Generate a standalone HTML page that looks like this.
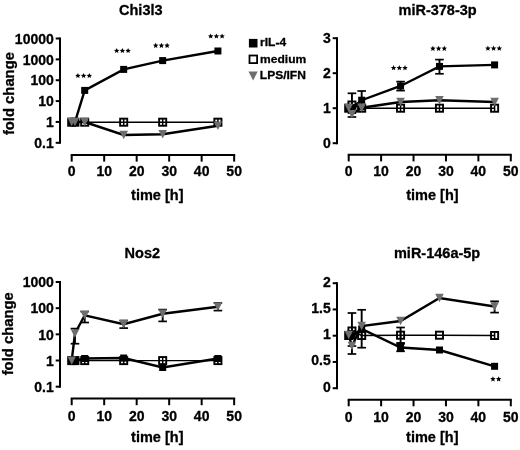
<!DOCTYPE html>
<html><head><meta charset="utf-8"><style>html,body{margin:0;padding:0;background:#fff;}svg{display:block;font-family:"Liberation Sans",sans-serif;will-change:transform;}text{stroke:#000;stroke-width:0.3px;stroke-linejoin:round;}</style></head><body>
<svg width="520" height="450" viewBox="0 0 520 450" font-family="Liberation Sans, sans-serif" font-weight="bold">
<rect width="520" height="450" fill="#fff"/>
<line x1="60" y1="37.5" x2="60" y2="143.8" stroke="#000" stroke-width="2"/>
<line x1="55.7" y1="38.5" x2="60" y2="38.5" stroke="#000" stroke-width="2"/>
<text x="53.8" y="43.7" font-size="14" text-anchor="end" >10000</text>
<line x1="55.7" y1="59.36" x2="60" y2="59.36" stroke="#000" stroke-width="2"/>
<text x="53.8" y="64.56" font-size="14" text-anchor="end" >1000</text>
<line x1="55.7" y1="80.22" x2="60" y2="80.22" stroke="#000" stroke-width="2"/>
<text x="53.8" y="85.42" font-size="14" text-anchor="end" >100</text>
<line x1="55.7" y1="101.08" x2="60" y2="101.08" stroke="#000" stroke-width="2"/>
<text x="53.8" y="106.28" font-size="14" text-anchor="end" >10</text>
<line x1="55.7" y1="121.94" x2="60" y2="121.94" stroke="#000" stroke-width="2"/>
<text x="53.8" y="127.14" font-size="14" text-anchor="end" >1</text>
<line x1="55.7" y1="142.8" x2="60" y2="142.8" stroke="#000" stroke-width="2"/>
<text x="53.8" y="148.0" font-size="14" text-anchor="end" >0.1</text>
<line x1="70.7" y1="155" x2="235.15000000000003" y2="155" stroke="#000" stroke-width="2"/>
<line x1="71.7" y1="155" x2="71.7" y2="161.6" stroke="#000" stroke-width="2"/>
<text x="71.7" y="176.2" font-size="14" text-anchor="middle" >0</text>
<line x1="104.19000000000001" y1="155" x2="104.19000000000001" y2="161.6" stroke="#000" stroke-width="2"/>
<text x="104.19000000000001" y="176.2" font-size="14" text-anchor="middle" >10</text>
<line x1="136.68" y1="155" x2="136.68" y2="161.6" stroke="#000" stroke-width="2"/>
<text x="136.68" y="176.2" font-size="14" text-anchor="middle" >20</text>
<line x1="169.17000000000002" y1="155" x2="169.17000000000002" y2="161.6" stroke="#000" stroke-width="2"/>
<text x="169.17000000000002" y="176.2" font-size="14" text-anchor="middle" >30</text>
<line x1="201.66000000000003" y1="155" x2="201.66000000000003" y2="161.6" stroke="#000" stroke-width="2"/>
<text x="201.66000000000003" y="176.2" font-size="14" text-anchor="middle" >40</text>
<line x1="234.15000000000003" y1="155" x2="234.15000000000003" y2="161.6" stroke="#000" stroke-width="2"/>
<text x="234.15000000000003" y="176.2" font-size="14" text-anchor="middle" >50</text>
<text x="140.8" y="14.8" font-size="14.5" text-anchor="middle" >Chi3l3</text>
<text x="157.3" y="200" font-size="14.5" text-anchor="middle" >time [h]</text>
<text transform="translate(13.6,93.6) rotate(-90)" font-size="14.8" text-anchor="middle">fold change</text>
<polyline points="71.70,122.00 74.95,122.00 84.70,90.40 123.68,69.40 162.67,60.60 217.91,51.00" fill="none" stroke="#000" stroke-width="2.4" stroke-linejoin="miter"/>
<rect x="68.20" y="118.50" width="7" height="7" fill="#000"/>
<rect x="71.45" y="118.50" width="7" height="7" fill="#000"/>
<rect x="81.20" y="86.90" width="7" height="7" fill="#000"/>
<rect x="120.18" y="65.90" width="7" height="7" fill="#000"/>
<rect x="159.17" y="57.10" width="7" height="7" fill="#000"/>
<rect x="214.41" y="47.50" width="7" height="7" fill="#000"/>
<polyline points="71.70,122.20 74.95,122.20 84.70,122.20 123.68,122.20 162.67,122.20 217.91,122.20" fill="none" stroke="#000" stroke-width="1.4" stroke-linejoin="miter"/>
<rect x="68.15" y="118.65" width="7.10" height="7.10" fill="none" stroke="#000" stroke-width="1.9"/>
<line x1="71.7" y1="118.65" x2="71.7" y2="125.75" stroke="#000" stroke-width="1.5"/>
<rect x="71.40" y="118.65" width="7.10" height="7.10" fill="none" stroke="#000" stroke-width="1.9"/>
<line x1="74.949" y1="118.65" x2="74.949" y2="125.75" stroke="#000" stroke-width="1.5"/>
<rect x="81.15" y="118.65" width="7.10" height="7.10" fill="none" stroke="#000" stroke-width="1.9"/>
<line x1="84.696" y1="118.65" x2="84.696" y2="125.75" stroke="#000" stroke-width="1.5"/>
<rect x="120.13" y="118.65" width="7.10" height="7.10" fill="none" stroke="#000" stroke-width="1.9"/>
<line x1="123.684" y1="118.65" x2="123.684" y2="125.75" stroke="#000" stroke-width="1.5"/>
<rect x="159.12" y="118.65" width="7.10" height="7.10" fill="none" stroke="#000" stroke-width="1.9"/>
<line x1="162.67200000000003" y1="118.65" x2="162.67200000000003" y2="125.75" stroke="#000" stroke-width="1.5"/>
<rect x="214.36" y="118.65" width="7.10" height="7.10" fill="none" stroke="#000" stroke-width="1.9"/>
<line x1="217.90500000000003" y1="118.65" x2="217.90500000000003" y2="125.75" stroke="#000" stroke-width="1.5"/>
<polyline points="71.70,122.00 74.95,122.00 84.70,122.00 123.68,135.00 162.67,134.20 217.91,125.80" fill="none" stroke="#000" stroke-width="2.4" stroke-linejoin="miter"/>
<polygon points="67.40,117.80 76.00,117.80 71.70,126.20" fill="#6e6e6e"/>
<polygon points="70.65,117.80 79.25,117.80 74.95,126.20" fill="#6e6e6e"/>
<polygon points="80.40,117.80 89.00,117.80 84.70,126.20" fill="#6e6e6e"/>
<polygon points="119.38,130.80 127.98,130.80 123.68,139.20" fill="#6e6e6e"/>
<polygon points="158.37,130.00 166.97,130.00 162.67,138.40" fill="#6e6e6e"/>
<polygon points="213.61,121.60 222.21,121.60 217.91,130.00" fill="#6e6e6e"/>
<polygon points="77.90,72.92 78.69,74.69 80.61,74.89 79.17,76.19 79.58,78.08 77.90,77.11 76.22,78.08 76.63,76.19 75.19,74.89 77.11,74.69" fill="#000"/>
<polygon points="83.60,72.92 84.39,74.69 86.31,74.89 84.87,76.19 85.28,78.08 83.60,77.11 81.92,78.08 82.33,76.19 80.89,74.89 82.81,74.69" fill="#000"/>
<polygon points="89.30,72.92 90.09,74.69 92.01,74.89 90.57,76.19 90.98,78.08 89.30,77.11 87.62,78.08 88.03,76.19 86.59,74.89 88.51,74.69" fill="#000"/>
<polygon points="116.70,47.92 117.49,49.69 119.41,49.89 117.97,51.19 118.38,53.08 116.70,52.11 115.02,53.08 115.43,51.19 113.99,49.89 115.91,49.69" fill="#000"/>
<polygon points="122.40,47.92 123.19,49.69 125.11,49.89 123.67,51.19 124.08,53.08 122.40,52.11 120.72,53.08 121.13,51.19 119.69,49.89 121.61,49.69" fill="#000"/>
<polygon points="128.10,47.92 128.89,49.69 130.81,49.89 129.37,51.19 129.78,53.08 128.10,52.11 126.42,53.08 126.83,51.19 125.39,49.89 127.31,49.69" fill="#000"/>
<polygon points="155.70,42.72 156.49,44.49 158.41,44.69 156.97,45.99 157.38,47.88 155.70,46.91 154.02,47.88 154.43,45.99 152.99,44.69 154.91,44.49" fill="#000"/>
<polygon points="161.40,42.72 162.19,44.49 164.11,44.69 162.67,45.99 163.08,47.88 161.40,46.91 159.72,47.88 160.13,45.99 158.69,44.69 160.61,44.49" fill="#000"/>
<polygon points="167.10,42.72 167.89,44.49 169.81,44.69 168.37,45.99 168.78,47.88 167.10,46.91 165.42,47.88 165.83,45.99 164.39,44.69 166.31,44.49" fill="#000"/>
<polygon points="210.70,33.42 211.49,35.19 213.41,35.39 211.97,36.69 212.38,38.58 210.70,37.61 209.02,38.58 209.43,36.69 207.99,35.39 209.91,35.19" fill="#000"/>
<polygon points="216.40,33.42 217.19,35.19 219.11,35.39 217.67,36.69 218.08,38.58 216.40,37.61 214.72,38.58 215.13,36.69 213.69,35.39 215.61,35.19" fill="#000"/>
<polygon points="222.10,33.42 222.89,35.19 224.81,35.39 223.37,36.69 223.78,38.58 222.10,37.61 220.42,38.58 220.83,36.69 219.39,35.39 221.31,35.19" fill="#000"/>
<line x1="337" y1="37.2" x2="337" y2="144.2" stroke="#000" stroke-width="2"/>
<line x1="332.7" y1="38.2" x2="337" y2="38.2" stroke="#000" stroke-width="2"/>
<text x="330.8" y="42.900000000000006" font-size="14" text-anchor="end" >3</text>
<line x1="332.7" y1="73.2" x2="337" y2="73.2" stroke="#000" stroke-width="2"/>
<text x="330.8" y="77.9" font-size="14" text-anchor="end" >2</text>
<line x1="332.7" y1="108.2" x2="337" y2="108.2" stroke="#000" stroke-width="2"/>
<text x="330.8" y="112.9" font-size="14" text-anchor="end" >1</text>
<line x1="332.7" y1="143.2" x2="337" y2="143.2" stroke="#000" stroke-width="2"/>
<text x="330.8" y="147.89999999999998" font-size="14" text-anchor="end" >0</text>
<line x1="347.7" y1="154.8" x2="511.79999999999995" y2="154.8" stroke="#000" stroke-width="2"/>
<line x1="348.7" y1="154.8" x2="348.7" y2="161.4" stroke="#000" stroke-width="2"/>
<text x="348.7" y="176.0" font-size="14" text-anchor="middle" >0</text>
<line x1="381.12" y1="154.8" x2="381.12" y2="161.4" stroke="#000" stroke-width="2"/>
<text x="381.12" y="176.0" font-size="14" text-anchor="middle" >10</text>
<line x1="413.53999999999996" y1="154.8" x2="413.53999999999996" y2="161.4" stroke="#000" stroke-width="2"/>
<text x="413.53999999999996" y="176.0" font-size="14" text-anchor="middle" >20</text>
<line x1="445.96" y1="154.8" x2="445.96" y2="161.4" stroke="#000" stroke-width="2"/>
<text x="445.96" y="176.0" font-size="14" text-anchor="middle" >30</text>
<line x1="478.38" y1="154.8" x2="478.38" y2="161.4" stroke="#000" stroke-width="2"/>
<text x="478.38" y="176.0" font-size="14" text-anchor="middle" >40</text>
<line x1="510.79999999999995" y1="154.8" x2="510.79999999999995" y2="161.4" stroke="#000" stroke-width="2"/>
<text x="510.79999999999995" y="176.0" font-size="14" text-anchor="middle" >50</text>
<text x="437.6" y="14.7" font-size="14.5" text-anchor="middle" >miR-378-3p</text>
<text x="432.4" y="200" font-size="14.5" text-anchor="middle" >time [h]</text>
<line x1="361.668" y1="91" x2="361.668" y2="109.4" stroke="#000" stroke-width="1.9"/>
<line x1="357.368" y1="91" x2="365.968" y2="91" stroke="#000" stroke-width="1.7"/>
<line x1="357.368" y1="109.4" x2="365.968" y2="109.4" stroke="#000" stroke-width="1.7"/>
<line x1="400.572" y1="81.6" x2="400.572" y2="90.6" stroke="#000" stroke-width="1.9"/>
<line x1="396.272" y1="81.6" x2="404.872" y2="81.6" stroke="#000" stroke-width="1.7"/>
<line x1="396.272" y1="90.6" x2="404.872" y2="90.6" stroke="#000" stroke-width="1.7"/>
<line x1="439.476" y1="59.6" x2="439.476" y2="73.8" stroke="#000" stroke-width="1.9"/>
<line x1="435.176" y1="59.6" x2="443.776" y2="59.6" stroke="#000" stroke-width="1.7"/>
<line x1="435.176" y1="73.8" x2="443.776" y2="73.8" stroke="#000" stroke-width="1.7"/>
<line x1="351.942" y1="93.3" x2="351.942" y2="105" stroke="#000" stroke-width="1.9"/>
<line x1="347.642" y1="93.3" x2="356.242" y2="93.3" stroke="#000" stroke-width="1.7"/>
<line x1="347.642" y1="105" x2="356.242" y2="105" stroke="#000" stroke-width="1.7"/>
<line x1="351.942" y1="113" x2="351.942" y2="117" stroke="#000" stroke-width="1.9"/>
<line x1="347.642" y1="113" x2="356.242" y2="113" stroke="#000" stroke-width="1.7"/>
<line x1="347.642" y1="117" x2="356.242" y2="117" stroke="#000" stroke-width="1.7"/>
<polyline points="348.70,108.00 351.94,108.00 361.67,100.20 400.57,86.00 439.48,66.40 494.59,64.90" fill="none" stroke="#000" stroke-width="2.4" stroke-linejoin="miter"/>
<rect x="345.20" y="104.50" width="7" height="7" fill="#000"/>
<rect x="348.44" y="104.50" width="7" height="7" fill="#000"/>
<rect x="358.17" y="96.70" width="7" height="7" fill="#000"/>
<rect x="397.07" y="82.50" width="7" height="7" fill="#000"/>
<rect x="435.98" y="62.90" width="7" height="7" fill="#000"/>
<rect x="491.09" y="61.40" width="7" height="7" fill="#000"/>
<polyline points="348.70,108.20 351.94,105.00 361.67,108.20 400.57,108.20 439.48,108.20 494.59,108.20" fill="none" stroke="#000" stroke-width="1.4" stroke-linejoin="miter"/>
<rect x="345.15" y="104.65" width="7.10" height="7.10" fill="none" stroke="#000" stroke-width="1.9"/>
<line x1="348.7" y1="104.65" x2="348.7" y2="111.75" stroke="#000" stroke-width="1.5"/>
<rect x="348.39" y="101.45" width="7.10" height="7.10" fill="none" stroke="#000" stroke-width="1.9"/>
<line x1="351.942" y1="101.45" x2="351.942" y2="108.55" stroke="#000" stroke-width="1.5"/>
<rect x="358.12" y="104.65" width="7.10" height="7.10" fill="none" stroke="#000" stroke-width="1.9"/>
<line x1="361.668" y1="104.65" x2="361.668" y2="111.75" stroke="#000" stroke-width="1.5"/>
<rect x="397.02" y="104.65" width="7.10" height="7.10" fill="none" stroke="#000" stroke-width="1.9"/>
<line x1="400.572" y1="104.65" x2="400.572" y2="111.75" stroke="#000" stroke-width="1.5"/>
<rect x="435.93" y="104.65" width="7.10" height="7.10" fill="none" stroke="#000" stroke-width="1.9"/>
<line x1="439.476" y1="104.65" x2="439.476" y2="111.75" stroke="#000" stroke-width="1.5"/>
<rect x="491.04" y="104.65" width="7.10" height="7.10" fill="none" stroke="#000" stroke-width="1.9"/>
<line x1="494.59" y1="104.65" x2="494.59" y2="111.75" stroke="#000" stroke-width="1.5"/>
<polyline points="348.70,108.00 351.94,114.20 361.67,107.70 400.57,102.00 439.48,100.20 494.59,102.00" fill="none" stroke="#000" stroke-width="2.4" stroke-linejoin="miter"/>
<polygon points="344.40,103.80 353.00,103.80 348.70,112.20" fill="#6e6e6e"/>
<polygon points="347.64,110.00 356.24,110.00 351.94,118.40" fill="#6e6e6e"/>
<polygon points="357.37,103.50 365.97,103.50 361.67,111.90" fill="#6e6e6e"/>
<polygon points="396.27,97.80 404.87,97.80 400.57,106.20" fill="#6e6e6e"/>
<polygon points="435.18,96.00 443.78,96.00 439.48,104.40" fill="#6e6e6e"/>
<polygon points="490.29,97.80 498.89,97.80 494.59,106.20" fill="#6e6e6e"/>
<polygon points="393.60,65.12 394.39,66.89 396.31,67.09 394.87,68.39 395.28,70.28 393.60,69.31 391.92,70.28 392.33,68.39 390.89,67.09 392.81,66.89" fill="#000"/>
<polygon points="399.30,65.12 400.09,66.89 402.01,67.09 400.57,68.39 400.98,70.28 399.30,69.31 397.62,70.28 398.03,68.39 396.59,67.09 398.51,66.89" fill="#000"/>
<polygon points="405.00,65.12 405.79,66.89 407.71,67.09 406.27,68.39 406.68,70.28 405.00,69.31 403.32,70.28 403.73,68.39 402.29,67.09 404.21,66.89" fill="#000"/>
<polygon points="432.90,45.82 433.69,47.59 435.61,47.79 434.17,49.09 434.58,50.98 432.90,50.01 431.22,50.98 431.63,49.09 430.19,47.79 432.11,47.59" fill="#000"/>
<polygon points="438.60,45.82 439.39,47.59 441.31,47.79 439.87,49.09 440.28,50.98 438.60,50.01 436.92,50.98 437.33,49.09 435.89,47.79 437.81,47.59" fill="#000"/>
<polygon points="444.30,45.82 445.09,47.59 447.01,47.79 445.57,49.09 445.98,50.98 444.30,50.01 442.62,50.98 443.03,49.09 441.59,47.79 443.51,47.59" fill="#000"/>
<polygon points="487.90,45.62 488.69,47.39 490.61,47.59 489.17,48.89 489.58,50.78 487.90,49.81 486.22,50.78 486.63,48.89 485.19,47.59 487.11,47.39" fill="#000"/>
<polygon points="493.60,45.62 494.39,47.39 496.31,47.59 494.87,48.89 495.28,50.78 493.60,49.81 491.92,50.78 492.33,48.89 490.89,47.59 492.81,47.39" fill="#000"/>
<polygon points="499.30,45.62 500.09,47.39 502.01,47.59 500.57,48.89 500.98,50.78 499.30,49.81 497.62,50.78 498.03,48.89 496.59,47.59 498.51,47.39" fill="#000"/>
<rect x="248.90" y="38.90" width="8.6" height="8.6" fill="#000"/>
<rect x="249.5" y="55.5" width="7.6" height="7.6" fill="none" stroke="#000" stroke-width="1.8"/>
<polygon points="248.5,71.6 257.7,71.6 253.1,80.6" fill="#6e6e6e"/>
<text transform="translate(260.1,46.1) scale(1.075,1)" font-size="11.2">rIL-4</text>
<text transform="translate(260.1,62.6) scale(1.075,1)" font-size="11.2">medium</text>
<text transform="translate(259.8,79.1) scale(1.075,1)" font-size="11.2">LPS/IFN</text>
<line x1="60" y1="281" x2="60" y2="387.8" stroke="#000" stroke-width="2"/>
<line x1="55.7" y1="282.0" x2="60" y2="282.0" stroke="#000" stroke-width="2"/>
<text x="53.8" y="287.2" font-size="14" text-anchor="end" >1000</text>
<line x1="55.7" y1="308.17" x2="60" y2="308.17" stroke="#000" stroke-width="2"/>
<text x="53.8" y="313.37" font-size="14" text-anchor="end" >100</text>
<line x1="55.7" y1="334.34000000000003" x2="60" y2="334.34000000000003" stroke="#000" stroke-width="2"/>
<text x="53.8" y="339.54" font-size="14" text-anchor="end" >10</text>
<line x1="55.7" y1="360.51" x2="60" y2="360.51" stroke="#000" stroke-width="2"/>
<text x="53.8" y="365.71" font-size="14" text-anchor="end" >1</text>
<line x1="55.7" y1="386.68" x2="60" y2="386.68" stroke="#000" stroke-width="2"/>
<text x="53.8" y="391.88" font-size="14" text-anchor="end" >0.1</text>
<line x1="70.7" y1="398.6" x2="235.15000000000003" y2="398.6" stroke="#000" stroke-width="2"/>
<line x1="71.7" y1="398.6" x2="71.7" y2="405.20000000000005" stroke="#000" stroke-width="2"/>
<text x="71.7" y="420.8" font-size="14" text-anchor="middle" >0</text>
<line x1="104.19000000000001" y1="398.6" x2="104.19000000000001" y2="405.20000000000005" stroke="#000" stroke-width="2"/>
<text x="104.19000000000001" y="420.8" font-size="14" text-anchor="middle" >10</text>
<line x1="136.68" y1="398.6" x2="136.68" y2="405.20000000000005" stroke="#000" stroke-width="2"/>
<text x="136.68" y="420.8" font-size="14" text-anchor="middle" >20</text>
<line x1="169.17000000000002" y1="398.6" x2="169.17000000000002" y2="405.20000000000005" stroke="#000" stroke-width="2"/>
<text x="169.17000000000002" y="420.8" font-size="14" text-anchor="middle" >30</text>
<line x1="201.66000000000003" y1="398.6" x2="201.66000000000003" y2="405.20000000000005" stroke="#000" stroke-width="2"/>
<text x="201.66000000000003" y="420.8" font-size="14" text-anchor="middle" >40</text>
<line x1="234.15000000000003" y1="398.6" x2="234.15000000000003" y2="405.20000000000005" stroke="#000" stroke-width="2"/>
<text x="234.15000000000003" y="420.8" font-size="14" text-anchor="middle" >50</text>
<text x="142.3" y="258.2" font-size="14.5" text-anchor="middle" >Nos2</text>
<text x="157.3" y="442" font-size="14.5" text-anchor="middle" >time [h]</text>
<text transform="translate(13.3,333.8) rotate(-90)" font-size="14.8" text-anchor="middle">fold change</text>
<polyline points="71.70,360.60 74.95,360.60 84.70,358.50 123.68,358.00 162.67,367.50 217.91,358.50" fill="none" stroke="#000" stroke-width="2.4" stroke-linejoin="miter"/>
<rect x="68.20" y="357.10" width="7" height="7" fill="#000"/>
<rect x="71.45" y="357.10" width="7" height="7" fill="#000"/>
<rect x="81.20" y="355.00" width="7" height="7" fill="#000"/>
<rect x="120.18" y="354.50" width="7" height="7" fill="#000"/>
<rect x="159.17" y="364.00" width="7" height="7" fill="#000"/>
<rect x="214.41" y="355.00" width="7" height="7" fill="#000"/>
<polyline points="71.70,360.60 74.95,360.60 84.70,360.60 123.68,360.60 162.67,360.60 217.91,360.60" fill="none" stroke="#000" stroke-width="1.4" stroke-linejoin="miter"/>
<rect x="68.15" y="357.05" width="7.10" height="7.10" fill="none" stroke="#000" stroke-width="1.9"/>
<line x1="71.7" y1="357.05" x2="71.7" y2="364.15000000000003" stroke="#000" stroke-width="1.5"/>
<rect x="71.40" y="357.05" width="7.10" height="7.10" fill="none" stroke="#000" stroke-width="1.9"/>
<line x1="74.949" y1="357.05" x2="74.949" y2="364.15000000000003" stroke="#000" stroke-width="1.5"/>
<rect x="81.15" y="357.05" width="7.10" height="7.10" fill="none" stroke="#000" stroke-width="1.9"/>
<line x1="84.696" y1="357.05" x2="84.696" y2="364.15000000000003" stroke="#000" stroke-width="1.5"/>
<rect x="120.13" y="357.05" width="7.10" height="7.10" fill="none" stroke="#000" stroke-width="1.9"/>
<line x1="123.684" y1="357.05" x2="123.684" y2="364.15000000000003" stroke="#000" stroke-width="1.5"/>
<rect x="159.12" y="357.05" width="7.10" height="7.10" fill="none" stroke="#000" stroke-width="1.9"/>
<line x1="162.67200000000003" y1="357.05" x2="162.67200000000003" y2="364.15000000000003" stroke="#000" stroke-width="1.5"/>
<rect x="214.36" y="357.05" width="7.10" height="7.10" fill="none" stroke="#000" stroke-width="1.9"/>
<line x1="217.90500000000003" y1="357.05" x2="217.90500000000003" y2="364.15000000000003" stroke="#000" stroke-width="1.5"/>
<line x1="74.949" y1="328.6" x2="74.949" y2="343.7" stroke="#000" stroke-width="1.9"/>
<line x1="70.649" y1="328.6" x2="79.249" y2="328.6" stroke="#000" stroke-width="1.7"/>
<line x1="70.649" y1="343.7" x2="79.249" y2="343.7" stroke="#000" stroke-width="1.7"/>
<line x1="84.696" y1="311.5" x2="84.696" y2="322.5" stroke="#000" stroke-width="1.9"/>
<line x1="80.396" y1="311.5" x2="88.996" y2="311.5" stroke="#000" stroke-width="1.7"/>
<line x1="80.396" y1="322.5" x2="88.996" y2="322.5" stroke="#000" stroke-width="1.7"/>
<line x1="123.684" y1="320.5" x2="123.684" y2="328.1" stroke="#000" stroke-width="1.9"/>
<line x1="119.384" y1="320.5" x2="127.984" y2="320.5" stroke="#000" stroke-width="1.7"/>
<line x1="119.384" y1="328.1" x2="127.984" y2="328.1" stroke="#000" stroke-width="1.7"/>
<line x1="162.67200000000003" y1="309.6" x2="162.67200000000003" y2="321.4" stroke="#000" stroke-width="1.9"/>
<line x1="158.372" y1="309.6" x2="166.97200000000004" y2="309.6" stroke="#000" stroke-width="1.7"/>
<line x1="158.372" y1="321.4" x2="166.97200000000004" y2="321.4" stroke="#000" stroke-width="1.7"/>
<line x1="217.90500000000003" y1="303" x2="217.90500000000003" y2="310.6" stroke="#000" stroke-width="1.9"/>
<line x1="213.60500000000002" y1="303" x2="222.20500000000004" y2="303" stroke="#000" stroke-width="1.7"/>
<line x1="213.60500000000002" y1="310.6" x2="222.20500000000004" y2="310.6" stroke="#000" stroke-width="1.7"/>
<polyline points="71.70,360.60 74.95,333.50 84.70,315.30 123.68,324.20 162.67,313.80 217.91,306.80" fill="none" stroke="#000" stroke-width="2.4" stroke-linejoin="miter"/>
<polygon points="67.40,356.40 76.00,356.40 71.70,364.80" fill="#6e6e6e"/>
<polygon points="70.65,329.30 79.25,329.30 74.95,337.70" fill="#6e6e6e"/>
<polygon points="80.40,311.10 89.00,311.10 84.70,319.50" fill="#6e6e6e"/>
<polygon points="119.38,320.00 127.98,320.00 123.68,328.40" fill="#6e6e6e"/>
<polygon points="158.37,309.60 166.97,309.60 162.67,318.00" fill="#6e6e6e"/>
<polygon points="213.61,302.60 222.21,302.60 217.91,311.00" fill="#6e6e6e"/>
<line x1="337" y1="282.2" x2="337" y2="389.2" stroke="#000" stroke-width="2"/>
<line x1="332.7" y1="283.2" x2="337" y2="283.2" stroke="#000" stroke-width="2"/>
<text x="330.8" y="286.59999999999997" font-size="14" text-anchor="end" >2</text>
<line x1="332.7" y1="309.45" x2="337" y2="309.45" stroke="#000" stroke-width="2"/>
<text x="330.8" y="312.84999999999997" font-size="14" text-anchor="end" >1.5</text>
<line x1="332.7" y1="335.7" x2="337" y2="335.7" stroke="#000" stroke-width="2"/>
<text x="330.8" y="339.09999999999997" font-size="14" text-anchor="end" >1</text>
<line x1="332.7" y1="361.95" x2="337" y2="361.95" stroke="#000" stroke-width="2"/>
<text x="330.8" y="365.34999999999997" font-size="14" text-anchor="end" >0.5</text>
<line x1="332.7" y1="388.2" x2="337" y2="388.2" stroke="#000" stroke-width="2"/>
<text x="330.8" y="391.59999999999997" font-size="14" text-anchor="end" >0</text>
<line x1="347.7" y1="399.7" x2="511.79999999999995" y2="399.7" stroke="#000" stroke-width="2"/>
<line x1="348.7" y1="399.7" x2="348.7" y2="406.3" stroke="#000" stroke-width="2"/>
<text x="348.7" y="421.5" font-size="14" text-anchor="middle" >0</text>
<line x1="381.12" y1="399.7" x2="381.12" y2="406.3" stroke="#000" stroke-width="2"/>
<text x="381.12" y="421.5" font-size="14" text-anchor="middle" >10</text>
<line x1="413.53999999999996" y1="399.7" x2="413.53999999999996" y2="406.3" stroke="#000" stroke-width="2"/>
<text x="413.53999999999996" y="421.5" font-size="14" text-anchor="middle" >20</text>
<line x1="445.96" y1="399.7" x2="445.96" y2="406.3" stroke="#000" stroke-width="2"/>
<text x="445.96" y="421.5" font-size="14" text-anchor="middle" >30</text>
<line x1="478.38" y1="399.7" x2="478.38" y2="406.3" stroke="#000" stroke-width="2"/>
<text x="478.38" y="421.5" font-size="14" text-anchor="middle" >40</text>
<line x1="510.79999999999995" y1="399.7" x2="510.79999999999995" y2="406.3" stroke="#000" stroke-width="2"/>
<text x="510.79999999999995" y="421.5" font-size="14" text-anchor="middle" >50</text>
<text x="437.1" y="258" font-size="14.5" text-anchor="middle" >miR-146a-5p</text>
<text x="432.3" y="442" font-size="14.5" text-anchor="middle" >time [h]</text>
<line x1="351.942" y1="313" x2="351.942" y2="331" stroke="#000" stroke-width="1.9"/>
<line x1="347.642" y1="313" x2="356.242" y2="313" stroke="#000" stroke-width="1.7"/>
<line x1="347.642" y1="331" x2="356.242" y2="331" stroke="#000" stroke-width="1.7"/>
<line x1="361.668" y1="309.8" x2="361.668" y2="347.7" stroke="#000" stroke-width="1.9"/>
<line x1="357.368" y1="309.8" x2="365.968" y2="309.8" stroke="#000" stroke-width="1.7"/>
<line x1="357.368" y1="347.7" x2="365.968" y2="347.7" stroke="#000" stroke-width="1.7"/>
<line x1="400.572" y1="327.5" x2="400.572" y2="342.9" stroke="#000" stroke-width="1.9"/>
<line x1="396.272" y1="327.5" x2="404.872" y2="327.5" stroke="#000" stroke-width="1.7"/>
<line x1="396.272" y1="342.9" x2="404.872" y2="342.9" stroke="#000" stroke-width="1.7"/>
<line x1="400.572" y1="343.8" x2="400.572" y2="351.3" stroke="#000" stroke-width="1.9"/>
<line x1="396.272" y1="343.8" x2="404.872" y2="343.8" stroke="#000" stroke-width="1.7"/>
<line x1="396.272" y1="351.3" x2="404.872" y2="351.3" stroke="#000" stroke-width="1.7"/>
<line x1="351.942" y1="346" x2="351.942" y2="354" stroke="#000" stroke-width="1.9"/>
<line x1="347.642" y1="346" x2="356.242" y2="346" stroke="#000" stroke-width="1.7"/>
<line x1="347.642" y1="354" x2="356.242" y2="354" stroke="#000" stroke-width="1.7"/>
<line x1="494.59" y1="301.3" x2="494.59" y2="312.6" stroke="#000" stroke-width="1.9"/>
<line x1="490.28999999999996" y1="301.3" x2="498.89" y2="301.3" stroke="#000" stroke-width="1.7"/>
<line x1="490.28999999999996" y1="312.6" x2="498.89" y2="312.6" stroke="#000" stroke-width="1.7"/>
<polyline points="348.70,336.00 351.94,336.00 361.67,329.00 400.57,347.50 439.48,350.00 494.59,366.30" fill="none" stroke="#000" stroke-width="2.4" stroke-linejoin="miter"/>
<rect x="345.20" y="332.50" width="7" height="7" fill="#000"/>
<rect x="348.44" y="332.50" width="7" height="7" fill="#000"/>
<rect x="358.17" y="325.50" width="7" height="7" fill="#000"/>
<rect x="397.07" y="344.00" width="7" height="7" fill="#000"/>
<rect x="435.98" y="346.50" width="7" height="7" fill="#000"/>
<rect x="491.09" y="362.80" width="7" height="7" fill="#000"/>
<polyline points="348.70,335.50 351.94,331.00 361.67,335.50 400.57,335.20 439.48,335.20 494.59,335.50" fill="none" stroke="#000" stroke-width="1.4" stroke-linejoin="miter"/>
<rect x="345.15" y="331.95" width="7.10" height="7.10" fill="none" stroke="#000" stroke-width="1.9"/>
<line x1="348.7" y1="331.95" x2="348.7" y2="339.05" stroke="#000" stroke-width="1.5"/>
<rect x="348.39" y="327.45" width="7.10" height="7.10" fill="none" stroke="#000" stroke-width="1.9"/>
<line x1="351.942" y1="327.45" x2="351.942" y2="334.55" stroke="#000" stroke-width="1.5"/>
<rect x="358.12" y="331.95" width="7.10" height="7.10" fill="none" stroke="#000" stroke-width="1.9"/>
<line x1="361.668" y1="331.95" x2="361.668" y2="339.05" stroke="#000" stroke-width="1.5"/>
<rect x="397.02" y="331.65" width="7.10" height="7.10" fill="none" stroke="#000" stroke-width="1.9"/>
<line x1="400.572" y1="331.65" x2="400.572" y2="338.75" stroke="#000" stroke-width="1.5"/>
<rect x="435.93" y="331.65" width="7.10" height="7.10" fill="none" stroke="#000" stroke-width="1.9"/>
<rect x="491.04" y="331.95" width="7.10" height="7.10" fill="none" stroke="#000" stroke-width="1.9"/>
<line x1="494.59" y1="331.95" x2="494.59" y2="339.05" stroke="#000" stroke-width="1.5"/>
<polyline points="348.70,335.00 351.94,346.00 361.67,326.00 400.57,321.00 439.48,298.00 494.59,306.50" fill="none" stroke="#000" stroke-width="2.4" stroke-linejoin="miter"/>
<polygon points="344.40,330.80 353.00,330.80 348.70,339.20" fill="#6e6e6e"/>
<polygon points="347.64,341.80 356.24,341.80 351.94,350.20" fill="#6e6e6e"/>
<polygon points="357.37,321.80 365.97,321.80 361.67,330.20" fill="#6e6e6e"/>
<polygon points="396.27,316.80 404.87,316.80 400.57,325.20" fill="#6e6e6e"/>
<polygon points="435.18,293.80 443.78,293.80 439.48,302.20" fill="#6e6e6e"/>
<polygon points="490.29,302.30 498.89,302.30 494.59,310.70" fill="#6e6e6e"/>
<polygon points="492.95,376.22 493.74,377.99 495.66,378.19 494.22,379.49 494.63,381.38 492.95,380.41 491.27,381.38 491.68,379.49 490.24,378.19 492.16,377.99" fill="#000"/>
<polygon points="498.65,376.22 499.44,377.99 501.36,378.19 499.92,379.49 500.33,381.38 498.65,380.41 496.97,381.38 497.38,379.49 495.94,378.19 497.86,377.99" fill="#000"/>
</svg>
</body></html>
